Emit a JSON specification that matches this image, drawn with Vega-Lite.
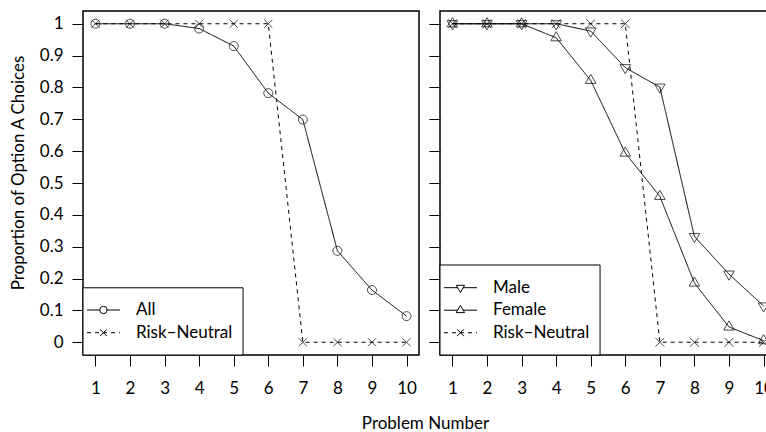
{
  "$schema": "https://vega.github.io/schema/vega-lite/v6.json",
  "background": "white",
  "padding": {"left": 8, "top": 10, "right": 0, "bottom": 0},
  "datasets": {
    "d": [
      {"panel": "A", "series": "All", "problem": 1, "prop": 1},
      {"panel": "A", "series": "All", "problem": 2, "prop": 1},
      {"panel": "A", "series": "All", "problem": 3, "prop": 1},
      {"panel": "A", "series": "All", "problem": 4, "prop": 0.985},
      {"panel": "A", "series": "All", "problem": 5, "prop": 0.93},
      {"panel": "A", "series": "All", "problem": 6, "prop": 0.782},
      {"panel": "A", "series": "All", "problem": 7, "prop": 0.699},
      {"panel": "A", "series": "All", "problem": 8, "prop": 0.287},
      {"panel": "A", "series": "All", "problem": 9, "prop": 0.164},
      {"panel": "A", "series": "All", "problem": 10, "prop": 0.082},
      {"panel": "A", "series": "Risk–Neutral", "problem": 1, "prop": 1},
      {"panel": "A", "series": "Risk–Neutral", "problem": 2, "prop": 1},
      {"panel": "A", "series": "Risk–Neutral", "problem": 3, "prop": 1},
      {"panel": "A", "series": "Risk–Neutral", "problem": 4, "prop": 1},
      {"panel": "A", "series": "Risk–Neutral", "problem": 5, "prop": 1},
      {"panel": "A", "series": "Risk–Neutral", "problem": 6, "prop": 1},
      {"panel": "A", "series": "Risk–Neutral", "problem": 7, "prop": 0},
      {"panel": "A", "series": "Risk–Neutral", "problem": 8, "prop": 0},
      {"panel": "A", "series": "Risk–Neutral", "problem": 9, "prop": 0},
      {"panel": "A", "series": "Risk–Neutral", "problem": 10, "prop": 0},
      {"panel": "B", "series": "Male", "problem": 1, "prop": 1},
      {"panel": "B", "series": "Male", "problem": 2, "prop": 1},
      {"panel": "B", "series": "Male", "problem": 3, "prop": 1},
      {"panel": "B", "series": "Male", "problem": 4, "prop": 1},
      {"panel": "B", "series": "Male", "problem": 5, "prop": 0.977},
      {"panel": "B", "series": "Male", "problem": 6, "prop": 0.862},
      {"panel": "B", "series": "Male", "problem": 7, "prop": 0.801},
      {"panel": "B", "series": "Male", "problem": 8, "prop": 0.332},
      {"panel": "B", "series": "Male", "problem": 9, "prop": 0.214},
      {"panel": "B", "series": "Male", "problem": 10, "prop": 0.114},
      {"panel": "B", "series": "Female", "problem": 1, "prop": 1},
      {"panel": "B", "series": "Female", "problem": 2, "prop": 1},
      {"panel": "B", "series": "Female", "problem": 3, "prop": 1},
      {"panel": "B", "series": "Female", "problem": 4, "prop": 0.956},
      {"panel": "B", "series": "Female", "problem": 5, "prop": 0.822},
      {"panel": "B", "series": "Female", "problem": 6, "prop": 0.594},
      {"panel": "B", "series": "Female", "problem": 7, "prop": 0.458},
      {"panel": "B", "series": "Female", "problem": 8, "prop": 0.186},
      {"panel": "B", "series": "Female", "problem": 9, "prop": 0.048},
      {"panel": "B", "series": "Female", "problem": 10, "prop": 0.005},
      {"panel": "B", "series": "Risk–Neutral", "problem": 1, "prop": 1},
      {"panel": "B", "series": "Risk–Neutral", "problem": 2, "prop": 1},
      {"panel": "B", "series": "Risk–Neutral", "problem": 3, "prop": 1},
      {"panel": "B", "series": "Risk–Neutral", "problem": 4, "prop": 1},
      {"panel": "B", "series": "Risk–Neutral", "problem": 5, "prop": 1},
      {"panel": "B", "series": "Risk–Neutral", "problem": 6, "prop": 1},
      {"panel": "B", "series": "Risk–Neutral", "problem": 7, "prop": 0},
      {"panel": "B", "series": "Risk–Neutral", "problem": 8, "prop": 0},
      {"panel": "B", "series": "Risk–Neutral", "problem": 9, "prop": 0},
      {"panel": "B", "series": "Risk–Neutral", "problem": 10, "prop": 0}
    ]
  },
  "data": {"name": "d"},
  "bounds": "flush",
  "spacing": 21,
  "hconcat": [
    {
      "width": 336,
      "height": 344,
      "transform": [{"filter": "datum.panel === 'A'"}],
      "layer": [
        {
          "encoding": {
            "x": {
              "field": "problem", "type": "quantitative",
              "scale": {"domain": [0.64, 10.36], "nice": false, "zero": false},
              "axis": {"values": [1, 2, 3, 4, 5, 6, 7, 8, 9, 10], "title": "Problem Number", "titleX": 342, "titleY": 73, "titleBaseline": "alphabetic", "titleAlign": "center"}
            },
            "y": {
              "field": "prop", "type": "quantitative",
              "scale": {"domain": [-0.04, 1.04], "nice": false, "zero": false},
              "axis": {"values": [0, 0.1, 0.2, 0.3, 0.4, 0.5, 0.6, 0.7, 0.8, 0.9, 1], "format": ".1~f", "labelPadding": 9, "title": "Proportion of Option A Choices", "titleX": -60, "titleY": 161.5, "titleBaseline": "alphabetic", "titleAlign": "center", "titleAngle": -90}
            }
          },
          "layer": [
            {
              "mark": {"type": "line", "color": "black", "strokeWidth": 1},
              "encoding": {
                "strokeDash": {
                  "field": "series", "type": "nominal",
                  "scale": {"domain": ["All", "Risk–Neutral"], "range": [[1, 0], [4, 4]]},
                  "legend": null
                }
              }
            },
            {
              "mark": {"type": "point", "filled": false, "color": "black", "strokeWidth": 1, "size": 81},
              "encoding": {
                "shape": {
                  "field": "series", "type": "nominal",
                  "scale": {"domain": ["All", "Risk–Neutral"], "range": ["circle", "M-0.9,-0.9L0.9,0.9M-0.9,0.9L0.9,-0.9"]},
                  "legend": null
                }
              }
            },
            {
              "transform": [{"filter": "datum.problem === 1 && datum.series === 'All'"}],
              "mark": {"type": "rect", "fill": "white", "stroke": "black", "strokeWidth": 1},
              "encoding": {
                "x": {"datum": 0.64, "type": "quantitative", "axis": {"values": [1, 2, 3, 4, 5, 6, 7, 8, 9, 10], "title": "Problem Number", "titleX": 342, "titleY": 73, "titleBaseline": "alphabetic", "titleAlign": "center"}},
                "x2": {"datum": 5.27},
                "y": {"datum": 0.171, "type": "quantitative", "axis": {"values": [0, 0.1, 0.2, 0.3, 0.4, 0.5, 0.6, 0.7, 0.8, 0.9, 1], "format": ".1~f", "labelPadding": 9, "title": "Proportion of Option A Choices", "titleX": -60, "titleY": 161.5, "titleBaseline": "alphabetic", "titleAlign": "center", "titleAngle": -90}},
                "y2": {"datum": -0.04}
              }
            }
          ]
        },
        {
          "transform": [{"filter": "datum.problem === 1"}],
          "encoding": {
            "x": {"datum": 0.756, "type": "quantitative", "axis": {"values": [1, 2, 3, 4, 5, 6, 7, 8, 9, 10], "title": "Problem Number", "titleX": 342, "titleY": 73, "titleBaseline": "alphabetic", "titleAlign": "center"}},
            "y": {
              "field": "series", "type": "nominal",
              "scale": {"type": "point", "domain": ["All", "Risk–Neutral"], "range": [299, 321.7], "padding": 0},
              "axis": null
            }
          },
          "layer": [
            {
              "mark": {"type": "rule", "color": "black", "strokeWidth": 1},
              "encoding": {
                "x2": {"datum": 1.71},
                "strokeDash": {
                  "field": "series", "type": "nominal",
                  "scale": {"domain": ["All", "Risk–Neutral"], "range": [[1, 0], [4, 4]]},
                  "legend": null
                }
              }
            },
            {
              "mark": {"type": "point", "filled": true, "fill": "white", "stroke": "black", "strokeWidth": 1, "size": 55, "opacity": 1, "xOffset": 16.4},
              "encoding": {
                "shape": {
                  "field": "series", "type": "nominal",
                  "scale": {"domain": ["All", "Risk–Neutral"], "range": ["circle", "M-0.9,-0.9L0.9,0.9M-0.9,0.9L0.9,-0.9"]},
                  "legend": null
                }
              }
            },
            {
              "mark": {"type": "text", "align": "left", "baseline": "middle", "font": "Lato", "fontSize": 17, "color": "black", "dx": 49},
              "encoding": {
                "text": {"field": "series", "type": "nominal"}
              }
            }
          ]
        }
      ],
      "resolve": {"scale": {"y": "independent"}}
    },
    {
      "width": 336,
      "height": 344,
      "transform": [{"filter": "datum.panel === 'B'"}],
      "layer": [
        {
          "encoding": {
            "x": {
              "field": "problem", "type": "quantitative",
              "scale": {"domain": [0.64, 10.36], "nice": false, "zero": false},
              "axis": {"values": [1, 2, 3, 4, 5, 6, 7, 8, 9, 10], "title": null}
            },
            "y": {
              "field": "prop", "type": "quantitative",
              "scale": {"domain": [-0.04, 1.04], "nice": false, "zero": false},
              "axis": {"values": [0, 0.1, 0.2, 0.3, 0.4, 0.5, 0.6, 0.7, 0.8, 0.9, 1], "labels": false, "title": null}
            }
          },
          "layer": [
            {
              "mark": {"type": "line", "color": "black", "strokeWidth": 1},
              "encoding": {
                "strokeDash": {
                  "field": "series", "type": "nominal",
                  "scale": {"domain": ["Male", "Female", "Risk–Neutral"], "range": [[1, 0], [1, 0], [4, 4]]},
                  "legend": null
                }
              }
            },
            {
              "mark": {"type": "point", "filled": false, "color": "black", "strokeWidth": 1, "size": 150},
              "encoding": {
                "shape": {
                  "field": "series", "type": "nominal",
                  "scale": {"domain": ["Male", "Female", "Risk–Neutral"], "range": ["M0,1L0.866,-0.5L-0.866,-0.5Z", "M0,-1L0.866,0.5L-0.866,0.5Z", "M-0.72,-0.72L0.72,0.72M-0.72,0.72L0.72,-0.72"]},
                  "legend": null
                }
              }
            },
            {
              "transform": [{"filter": "datum.problem === 1 && datum.series === 'Male'"}],
              "mark": {"type": "rect", "fill": "white", "stroke": "black", "strokeWidth": 1},
              "encoding": {
                "x": {"datum": 0.64, "type": "quantitative", "axis": {"values": [1, 2, 3, 4, 5, 6, 7, 8, 9, 10], "title": null}},
                "x2": {"datum": 5.27},
                "y": {"datum": 0.2426, "type": "quantitative", "axis": {"values": [0, 0.1, 0.2, 0.3, 0.4, 0.5, 0.6, 0.7, 0.8, 0.9, 1], "labels": false, "title": null}},
                "y2": {"datum": -0.04}
              }
            }
          ]
        },
        {
          "transform": [{"filter": "datum.problem === 1"}],
          "encoding": {
            "x": {"datum": 0.756, "type": "quantitative", "axis": {"values": [1, 2, 3, 4, 5, 6, 7, 8, 9, 10], "title": null}},
            "y": {
              "field": "series", "type": "nominal",
              "scale": {"type": "point", "domain": ["Male", "Female", "Risk–Neutral"], "range": [276.7, 321.7], "padding": 0},
              "axis": null
            }
          },
          "layer": [
            {
              "mark": {"type": "rule", "color": "black", "strokeWidth": 1},
              "encoding": {
                "x2": {"datum": 1.71},
                "strokeDash": {
                  "field": "series", "type": "nominal",
                  "scale": {"domain": ["Male", "Female", "Risk–Neutral"], "range": [[1, 0], [1, 0], [4, 4]]},
                  "legend": null
                }
              }
            },
            {
              "mark": {"type": "point", "filled": true, "fill": "white", "stroke": "black", "strokeWidth": 1, "size": 92, "opacity": 1, "xOffset": 16.4},
              "encoding": {
                "shape": {
                  "field": "series", "type": "nominal",
                  "scale": {"domain": ["Male", "Female", "Risk–Neutral"], "range": ["M0,1L0.866,-0.5L-0.866,-0.5Z", "M0,-1L0.866,0.5L-0.866,0.5Z", "M-0.72,-0.72L0.72,0.72M-0.72,0.72L0.72,-0.72"]},
                  "legend": null
                }
              }
            },
            {
              "mark": {"type": "text", "align": "left", "baseline": "middle", "font": "Lato", "fontSize": 17, "color": "black", "dx": 49},
              "encoding": {
                "text": {"field": "series", "type": "nominal"}
              }
            }
          ]
        }
      ],
      "resolve": {"scale": {"y": "independent"}}
    }
  ],
  "resolve": {
    "scale": {"shape": "independent", "strokeDash": "independent"}
  },
  "config": {
    "font": "Lato",
    "view": {"stroke": "black", "strokeWidth": 1.5},
    "axis": {
      "domain": false,
      "grid": false,
      "ticks": true,
      "tickColor": "black",
      "tickSize": 11,
      "tickWidth": 1,
      "labelColor": "black",
      "labelFont": "Lato",
      "labelFontSize": 17,
      "labelFlush": false,
      "labelOverlap": false,
      "titleFont": "Lato",
      "titleFontSize": 17,
      "titleFontWeight": "normal",
      "titleColor": "black"
    },
    "axisX": {"labelPadding": 14}
  }
}
